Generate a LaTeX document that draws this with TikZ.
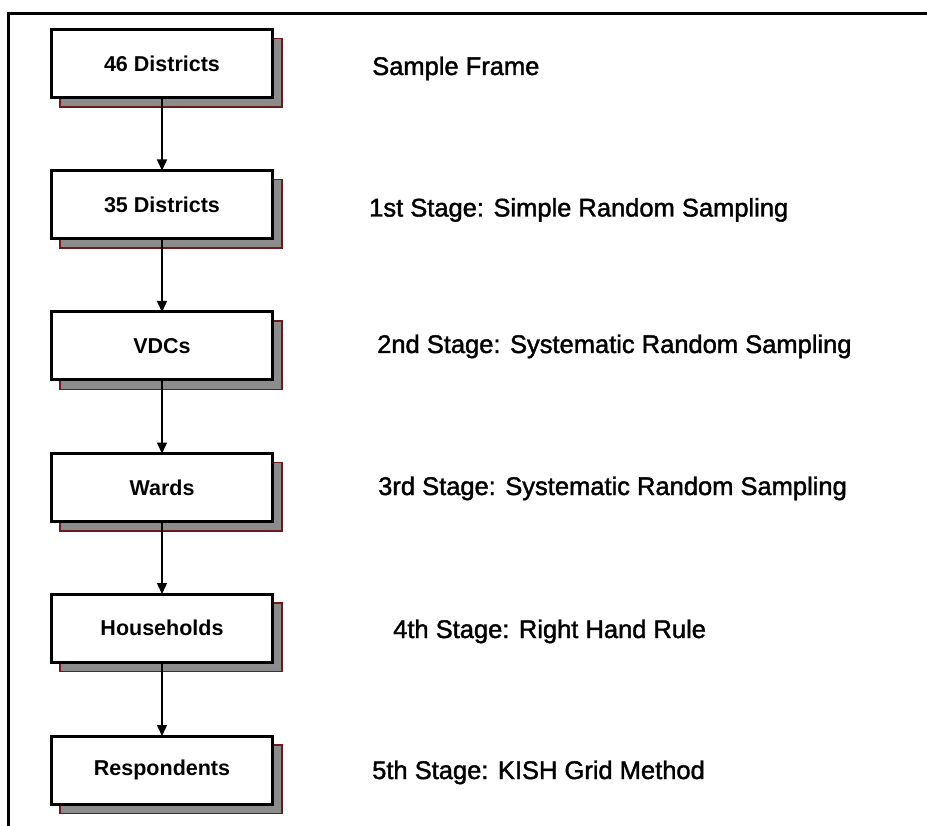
\documentclass[tikz,border=0pt]{standalone}
\usepackage{fontspec}
\setmainfont{Liberation Sans}
\newfontfamily\boxfont{Liberation Sans Bold}
\newfontfamily\labfont[FakeBold=1.6]{Liberation Sans}
\usetikzlibrary{arrows.meta}
\definecolor{shadowgray}{HTML}{8C8C8C}
\definecolor{maroon}{HTML}{6E1A1A}
\tikzset{
  stagebox/.style={draw=black, line width=3pt, fill=white, minimum width=221pt,
    minimum height=68pt, inner sep=0pt, font=\boxfont\fontsize{21.5}{24}\selectfont},
  boxshadow/.style={fill=shadowgray, draw=maroon, line width=1.6pt},
  stagelabel/.style={anchor=base west, inner sep=0pt, font=\labfont\fontsize{25.5}{28}\selectfont},
  flow/.style={line width=1.5pt, -{Triangle[width=10pt,length=11pt]}},
  frameline/.style={line width=3pt, line cap=rect}
}
\begin{document}
\begin{tikzpicture}[x=1pt,y=-1pt]
\useasboundingbox (0,0) rectangle (927,826);
\fill[white] (0,0) rectangle (927,826);
% frame
\coordinate (ftr) at (930,14);
\coordinate (ftl) at (8.5,14);
\coordinate (fbl) at (8.5,830);
\draw[frameline] (ftr) -- (ftl) -- (fbl);
% box centres
\foreach \n/\y in {b1/63.5, b2/204.5, b3/346, b4/487.5, b5/628, b6/770}{
  \coordinate (\n c) at (162,\y);
}
% shadows
\foreach \y in {63.5, 204.5, 346, 487.5, 628, 770}{
  \draw[boxshadow] (171-111,\y+9-34) rectangle (171+111,\y+9+34.5);
}
\node[stagebox] (b1) at (b1c) {46 Districts};
\node[stagebox] (b2) at (b2c) {35 Districts};
\node[stagebox] (b3) at (b3c) {VDCs};
\node[stagebox] (b4) at (b4c) {Wards};
\node[stagebox] (b5) at (b5c) {Households};
\node[stagebox] (b6) at (b6c) {Respondents};
% connectors
\draw[flow] (b1.south) -- ([yshift=-1.5pt]b2.north);
\draw[flow] (b2.south) -- ([yshift=-1.5pt]b3.north);
\draw[flow] (b3.south) -- ([yshift=-1.5pt]b4.north);
\draw[flow] (b4.south) -- ([yshift=-1.5pt]b5.north);
\draw[flow] (b5.south) -- ([yshift=-1.5pt]b6.north);
% stage labels
\node[stagelabel] (l1) at (372,75) {Sample Frame};
\node[stagelabel] (l2) at (369,216.5) {1st Stage: Simple Random Sampling};
\node[stagelabel] (l3) at (377,353) {2nd Stage: Systematic Random Sampling};
\node[stagelabel] (l4) at (378,495) {3rd Stage: Systematic Random Sampling};
\node[stagelabel] (l5) at (393,638) {4th Stage: Right Hand Rule};
\node[stagelabel] (l6) at (372,779) {5th Stage: KISH Grid Method};
\end{tikzpicture}
\end{document}
